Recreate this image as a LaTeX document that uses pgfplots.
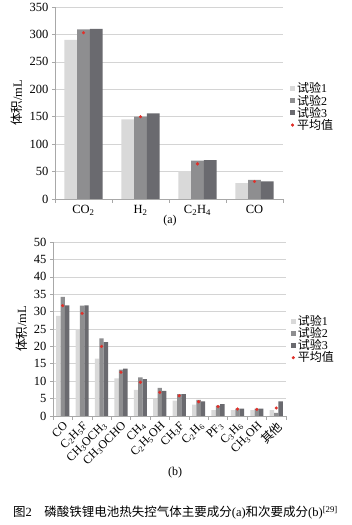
\documentclass[border=0pt]{standalone}
\usepackage{fontspec}
\setmainfont{Liberation Serif}
\newfontfamily\cjk{Noto Sans CJK SC}
\usepackage{pgfplots}
\pgfplotsset{compat=1.18}
\definecolor{ga}{HTML}{D9D9D9}
\definecolor{gb}{HTML}{8E8E90}
\definecolor{gc}{HTML}{6A6A6F}
\definecolor{gridc}{HTML}{D4D4D4}
\definecolor{axc}{HTML}{A8A8A8}
\definecolor{avgc}{HTML}{E0302A}
\pgfplotsset{
 mystyle/.style={
  scale only axis,
  axis x line*=bottom, axis y line*=left,
  axis line style={axc, line width=0.6pt},
  ymajorgrids, grid style={gridc, line width=0.6pt},
  tick align=outside,
  major tick length=3pt, minor tick length=4pt,
  tick style={axc, line width=0.6pt},
  major x tick style={draw=none},
  /pgf/number format/assume math mode=true,
  ticklabel style={font=\fontsize{12.5}{13}\selectfont},
  label style={font=\fontsize{12.5}{13}\selectfont},
  ylabel={{\cjk 体积}/mL},
  legend cell align=left,
  legend style={draw=none, fill=none, font=\fontsize{12}{12}\selectfont, row sep=-3.5pt, inner sep=0pt},
 },
 b1/.style={ybar, draw=none, fill=ga, legend image code/.code={\fill[ga] (0pt,-2.5pt) rectangle (5pt,2.5pt);}},
 b2/.style={ybar, draw=none, fill=gb, legend image code/.code={\fill[gb] (0pt,-2.5pt) rectangle (5pt,2.5pt);}},
 b3/.style={ybar, draw=none, fill=gc, legend image code/.code={\fill[gc] (0pt,-2.5pt) rectangle (5pt,2.5pt);}},
 av/.style={only marks, mark=*, mark size=1.4pt, color=avgc, legend image code/.code={\fill[avgc] (2.5pt,0pt) circle (1.4pt);}},
}
\begin{document}
\begin{tikzpicture}[x=1pt,y=1pt]
\path[use as bounding box] (0,0) rectangle (351,525);
% (a)
\begin{axis}[mystyle,
  at={(55pt,326pt)}, anchor=south west,
  width=228pt, height=192pt,
  xmin=-0.5, xmax=3.5, ymin=0, ymax=350,
  ytick={0,50,...,350},
  xtick={0,1,2,3},
  xticklabels={CO\textsubscript{2}, H\textsubscript{2}, C\textsubscript{2}H\textsubscript{4}, CO},
  minor xtick={-0.5,0.5,1.5,2.5,3.5},
  legend style={at={(1.03,0.48)}, anchor=west},
]
\addplot[b1, bar width=12.7pt, bar shift=-12.7pt] coordinates {(0,290) (1,145) (2,51) (3,29)};
\addplot[b2, bar width=12.7pt, bar shift=0pt] coordinates {(0,309) (1,150) (2,70) (3,35)};
\addplot[b3, bar width=12.7pt, bar shift=12.7pt] coordinates {(0,310) (1,156) (2,71) (3,32)};
\addplot[av] coordinates {(0,303) (1,150) (2,64) (3,32)};
\legend{{\cjk 试验}1, {\cjk 试验}2, {\cjk 试验}3, {\cjk 平均值}}
\end{axis}
\node[font=\fontsize{12}{13}\selectfont] at (170,304) {(a)};
% (b)
\begin{axis}[mystyle,
  at={(53pt,109pt)}, anchor=south west,
  width=233pt, height=174pt,
  xmin=-0.5, xmax=11.5, ymin=0, ymax=50,
  ytick={0,5,...,50},
  xtick={0,...,11},
  xticklabels={CO, C\textsubscript{2}H\textsubscript{5}F, CH\textsubscript{3}OCH\textsubscript{3}, CH\textsubscript{3}OCHO, CH\textsubscript{4}, C\textsubscript{2}H\textsubscript{5}OH, CH\textsubscript{3}F, C\textsubscript{2}H\textsubscript{6}, PF\textsubscript{3}, C\textsubscript{3}H\textsubscript{6}, CH\textsubscript{3}OH, {\cjk 其他}},
  xticklabel style={rotate=45, anchor=north east, inner sep=1pt, font=\fontsize{12}{13}\selectfont},
  minor xtick={-0.5,0.5,...,11.5},
  legend style={at={(1.02,0.44)}, anchor=west},
]
\addplot[b1, bar width=4.4pt, bar shift=-4.4pt] coordinates {(0,28.8) (1,25) (2,16.5) (3,10.8) (4,7.5) (5,5) (6,4.4) (7,3.3) (8,1.7) (9,1.7) (10,1.7) (11,1.7)};
\addplot[b2, bar width=4.4pt, bar shift=0pt] coordinates {(0,34.2) (1,31.7) (2,22.3) (3,13.3) (4,11.1) (5,8.1) (6,6.3) (7,4.6) (8,3.0) (9,2.1) (10,2.1) (11,0.9)};
\addplot[b3, bar width=4.4pt, bar shift=4.4pt] coordinates {(0,31.8) (1,31.8) (2,21.2) (3,13.6) (4,10.6) (5,7.2) (6,6.3) (7,4.2) (8,3.4) (9,2.1) (10,2.1) (11,4.2)};
\addplot[av] coordinates {(0,31.7) (1,29.5) (2,20) (3,12.6) (4,9.7) (5,6.8) (6,5.8) (7,4.1) (8,2.7) (9,2.0) (10,1.9) (11,2.3)};
\legend{{\cjk 试验}1, {\cjk 试验}2, {\cjk 试验}3, {\cjk 平均值}}
\end{axis}
\node[font=\fontsize{12}{13}\selectfont] at (175,52) {(b)};
\node[font=\fontsize{12.5}{14}\selectfont] at (175.5,12) {{\cjk 图}2\hspace{1em}{\cjk 磷酸铁锂电池热失控气体主要成分}(a){\cjk 和次要成分}(b)\textsuperscript{[29]}};
\end{tikzpicture}
\end{document}
